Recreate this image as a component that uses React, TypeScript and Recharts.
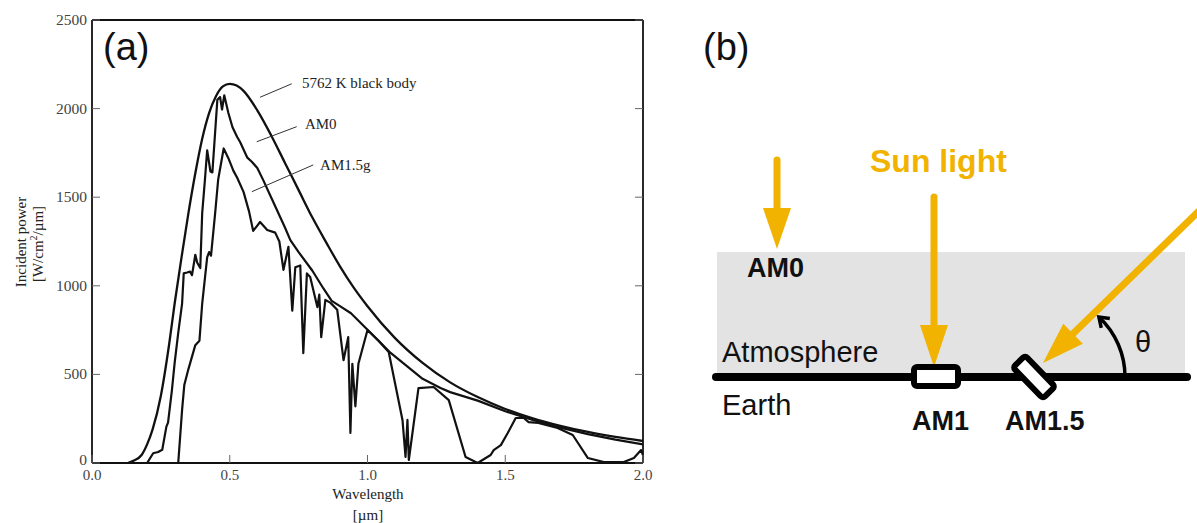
import {
  Customized,
  Line,
  LineChart,
  ReferenceDot,
  ReferenceLine,
  Surface,
  XAxis,
  YAxis,
} from 'recharts';

// [wavelength µm, incident power]
const BLACK_BODY: [number, number][] = [
  [0.13, 0], [0.15, 12], [0.18, 45], [0.2, 105], [0.22, 190], [0.25, 380], [0.28, 670],
  [0.3, 900], [0.325, 1160], [0.35, 1410], [0.375, 1635], [0.4, 1830], [0.425, 1975],
  [0.45, 2070], [0.475, 2125], [0.5, 2140], [0.525, 2130], [0.55, 2100], [0.6, 1990],
  [0.65, 1850], [0.7, 1695], [0.75, 1540], [0.8, 1385], [0.85, 1245], [0.9, 1110],
  [0.95, 990], [1.0, 885], [1.1, 705], [1.2, 565], [1.3, 455], [1.4, 372], [1.5, 305],
  [1.6, 252], [1.7, 210], [1.8, 175], [1.9, 147], [2.0, 124],
];

const AM0: [number, number][] = [
  [0.2, 0], [0.222, 55], [0.24, 62], [0.255, 75], [0.27, 205], [0.276, 228], [0.29, 410],
  [0.3, 565], [0.313, 735], [0.327, 900], [0.333, 1070], [0.345, 1075], [0.356, 1080],
  [0.363, 1060], [0.375, 1175], [0.382, 1130], [0.393, 1100], [0.4, 1410], [0.41, 1600],
  [0.418, 1765], [0.43, 1645], [0.437, 1640], [0.455, 2050], [0.465, 2065], [0.472, 1995],
  [0.48, 2075], [0.495, 1975], [0.51, 1895], [0.527, 1840], [0.538, 1810], [0.563, 1725],
  [0.58, 1700], [0.6, 1665], [0.622, 1595], [0.65, 1500], [0.7, 1330], [0.72, 1258],
  [0.75, 1190], [0.8, 1085], [0.84, 985], [0.87, 915], [0.9, 885], [0.94, 845], [1.0, 752],
  [1.04, 690], [1.084, 621], [1.2, 475], [1.265, 423], [1.3, 400], [1.4, 352], [1.5, 292],
  [1.6, 243], [1.7, 200], [1.8, 163], [1.9, 132], [2.0, 105],
];

const AM15G: [number, number][] = [
  [0.313, 0], [0.327, 300], [0.335, 440], [0.35, 530], [0.375, 665], [0.39, 690], [0.4, 900],
  [0.418, 1160], [0.425, 1190], [0.432, 1170], [0.447, 1410], [0.458, 1600], [0.478, 1775],
  [0.495, 1720], [0.513, 1650], [0.527, 1610], [0.55, 1530], [0.57, 1420], [0.585, 1310],
  [0.6, 1340], [0.61, 1360], [0.636, 1315], [0.665, 1300], [0.68, 1250], [0.695, 1090],
  [0.713, 1220], [0.727, 860], [0.738, 1105], [0.756, 1115], [0.767, 620], [0.78, 1070],
  [0.792, 1050], [0.818, 880], [0.825, 950], [0.832, 710], [0.847, 920], [0.865, 905],
  [0.89, 865], [0.913, 580], [0.93, 710], [0.938, 170], [0.945, 560], [0.956, 320],
  [0.967, 560], [1.0, 751], [1.04, 690], [1.077, 626], [1.127, 243], [1.138, 34],
  [1.145, 243], [1.15, 17], [1.185, 423], [1.24, 429], [1.295, 355], [1.356, 34], [1.4, 0],
  [1.447, 45], [1.458, 73], [1.484, 101], [1.509, 169], [1.538, 254], [1.567, 254],
  [1.585, 231], [1.62, 226], [1.69, 198], [1.745, 158], [1.8, 28], [1.858, 5], [1.93, 5],
  [1.967, 28], [1.993, 73], [2.0, 45],
];

const X_TICKS = [0, 0.5, 1, 1.5, 2];
const Y_TICKS = [0, 500, 1000, 1500, 2000, 2500];

const CURVE_NAMES = ['5762 K black body', 'AM0', 'AM1.5g'];

// leader line (from, to) and label anchor, in data units
const CALLOUTS = [
  { from: [0.61, 2064], to: [0.725, 2140], at: [0.762, 2144] },
  { from: [0.598, 1813], to: [0.743, 1898], at: [0.773, 1913] },
  { from: [0.58, 1531], to: [0.803, 1682], at: [0.828, 1682] },
];

const toRows = (pts: [number, number][]) => pts.map(([wl, p]) => ({ wl, p }));

const SERIF = '"Liberation Serif", "DejaVu Serif", serif';
const SANS = '"Liberation Sans", Arial, sans-serif';
const ORANGE = '#f1b300';
const INK = '#111';
const TICK_INK = '#666';

const W = 660;
const H = 523;
const PLOT = { left: 92, right: 643, top: 20, bottom: 463 };
const TICK_LEN = 8;

function BottomTick({ x, payload }: any) {
  return (
    <g>
      <line x1={x} x2={x} y1={PLOT.bottom} y2={PLOT.bottom - TICK_LEN} stroke={TICK_INK} />
      <text x={x} y={PLOT.bottom + 17} textAnchor="middle" fontFamily={SERIF} fontSize={15} fill="#444">
        {Number(payload.value).toFixed(1)}
      </text>
    </g>
  );
}

function TopTick({ x }: any) {
  return <line x1={x} x2={x} y1={PLOT.top} y2={PLOT.top + TICK_LEN} stroke={TICK_INK} />;
}

function LeftTick({ y, payload }: any) {
  // the zero label sits a little higher so it clears the 0.0 below it
  const lift = payload.value === 0 ? 3 : 0;
  return (
    <g>
      <line x1={PLOT.left} x2={PLOT.left + TICK_LEN} y1={y} y2={y} stroke={TICK_INK} />
      <text x={PLOT.left - 5} y={y + 5 - lift} textAnchor="end" fontFamily={SERIF} fontSize={15.5} fill="#444">
        {payload.value}
      </text>
    </g>
  );
}

function RightTick({ y }: any) {
  return <line x1={PLOT.right - TICK_LEN} x2={PLOT.right} y1={y} y2={y} stroke={TICK_INK} />;
}

function SpectrumTitles() {
  return (
    <g fontFamily={SERIF} fill="#222" fontSize={15}>
      <text x={103} y={60} fontFamily={SANS} fontSize={38} fill={INK}>(a)</text>
      <text x={368} y={499} textAnchor="middle">Wavelength</text>
      <text x={368} y={520} textAnchor="middle">[µm]</text>
      <text transform="rotate(-90)" x={-242} y={26} textAnchor="middle">Incident power</text>
      <text transform="rotate(-90)" x={-244} y={43} textAnchor="middle">
        [W/cm<tspan dy={-6} fontSize={10}>2</tspan>
        <tspan dy={6}>/µm]</tspan>
      </text>
    </g>
  );
}

function SpectrumChart() {
  const axisLine = { stroke: INK, strokeWidth: 1.8 };
  return (
    <LineChart
      width={W}
      height={H}
      margin={{ top: PLOT.top - 1, right: W - PLOT.right - 1, bottom: H - PLOT.bottom - 30, left: PLOT.left - 60 }}
    >
      <XAxis dataKey="wl" type="number" domain={[0, 2]} ticks={X_TICKS} interval={0} height={30}
        tick={BottomTick} tickLine={false} axisLine={axisLine} allowDataOverflow />
      <XAxis xAxisId="top" orientation="top" type="number" domain={[0, 2]} ticks={X_TICKS} interval={0}
        height={1} tick={TopTick} tickLine={false} axisLine={axisLine} allowDataOverflow />
      <YAxis type="number" domain={[0, 2500]} ticks={Y_TICKS} interval={0} width={60}
        tick={LeftTick} tickLine={false} axisLine={axisLine} allowDataOverflow />
      <YAxis yAxisId="right" orientation="right" type="number" domain={[0, 2500]} ticks={Y_TICKS}
        interval={0} width={1} tick={RightTick} tickLine={false} axisLine={axisLine} allowDataOverflow />

      <Line data={toRows(BLACK_BODY)} dataKey="p" type="monotone" stroke={INK} strokeWidth={2.3}
        dot={false} activeDot={false} isAnimationActive={false} />
      <Line data={toRows(AM0)} dataKey="p" type="linear" stroke={INK} strokeWidth={2.2}
        strokeLinejoin="round" dot={false} activeDot={false} isAnimationActive={false} />
      <Line data={toRows(AM15G)} dataKey="p" type="linear" stroke={INK} strokeWidth={2.2}
        strokeLinejoin="round" dot={false} activeDot={false} isAnimationActive={false} />

      {CALLOUTS.map((c, i) => (
        <ReferenceLine key={`l${i}`} segment={[{ x: c.from[0], y: c.from[1] }, { x: c.to[0], y: c.to[1] }]}
          stroke="#333" strokeWidth={1} />
      ))}
      {CALLOUTS.map((c, i) => (
        <ReferenceDot key={`t${i}`} x={c.at[0]} y={c.at[1]} r={0} stroke="none"
          label={{ value: CURVE_NAMES[i], position: 'right', offset: 0, fill: '#222', fontSize: 15, fontFamily: SERIF }} />
      ))}
      <Customized component={<SpectrumTitles />} />
    </LineChart>
  );
}

// air-mass sketch: sun rays hitting the ground through the atmosphere
function AirMassDiagram() {
  const rayTip = [1043, 363];
  const dir = [0.716, -0.698];
  const perp = [0.698, 0.716];
  const head = [rayTip[0] + 42 * dir[0], rayTip[1] + 42 * dir[1]];
  const arcEnd = [1043 + 82 * Math.cos((47 * Math.PI) / 180), 377 - 82 * Math.sin((47 * Math.PI) / 180)];
  return (
    <Surface width={537} height={523} viewBox={{ x: 660, y: 0, width: 537, height: 523 }}>
      <text x={703} y={60} fontFamily={SANS} fontSize={38} fill={INK}>(b)</text>
      <rect x={717} y={252} width={468} height={125} fill="#e3e3e3" />
      <line x1={716} x2={1187} y1={377} y2={377} stroke="#000" strokeWidth={8} strokeLinecap="round" />

      {/* AM0 ray */}
      <line x1={777} x2={777} y1={160} y2={212} stroke={ORANGE} strokeWidth={7} strokeLinecap="round" />
      <polygon points="763,208 791,208 777,249" fill={ORANGE} />
      {/* AM1 ray */}
      <line x1={934} x2={934} y1={197} y2={330} stroke={ORANGE} strokeWidth={7} strokeLinecap="round" />
      <polygon points="920,325 948,325 934,367" fill={ORANGE} />
      {/* AM1.5 ray */}
      <line x1={rayTip[0] + 270 * dir[0]} y1={rayTip[1] + 270 * dir[1]} x2={head[0] - 3 * dir[0]} y2={head[1] - 3 * dir[1]}
        stroke={ORANGE} strokeWidth={7} />
      <polygon
        points={`${head[0] + 14 * perp[0]},${head[1] + 14 * perp[1]} ${head[0] - 14 * perp[0]},${head[1] - 14 * perp[1]} ${rayTip[0]},${rayTip[1]}`}
        fill={ORANGE}
      />

      {/* detectors */}
      <rect x={914} y={367} width={44} height={19} rx={3} fill="#fff" stroke="#000" strokeWidth={6} />
      <g transform="rotate(46 1034 377)">
        <rect x={1034 - 21.5} y={377 - 8.5} width={43} height={17} rx={3} fill="#fff" stroke="#000" strokeWidth={6} />
      </g>

      {/* angle */}
      <path d={`M1125 377 A82 82 0 0 0 ${arcEnd[0]} ${arcEnd[1]}`} fill="none" stroke="#000" strokeWidth={3.5} />
      <path d={`M${arcEnd[0] + 2.3} ${arcEnd[1] + 10.8} L${arcEnd[0]} ${arcEnd[1]} L${arcEnd[0] + 10.9} ${arcEnd[1] + 1.5}`}
        fill="none" stroke="#000" strokeWidth={3.5} strokeLinejoin="miter" />

      <g fontFamily={SANS} fill={INK}>
        <text x={870} y={172} fontSize={32} fontWeight="bold" fill={ORANGE}>Sun light</text>
        <text x={747} y={277} fontSize={27} fontWeight="bold">AM0</text>
        <text x={722} y={362} fontSize={29}>Atmosphere</text>
        <text x={722} y={415} fontSize={29}>Earth</text>
        <text x={912} y={430} fontSize={27} fontWeight="bold">AM1</text>
        <text x={1005} y={430} fontSize={27} fontWeight="bold">AM1.5</text>
        <text x={1135} y={352} fontSize={29}>θ</text>
      </g>
    </Surface>
  );
}

export default function App() {
  return (
    <div style={{ position: 'absolute', left: 0, top: 0, width: 1197, height: 523, background: '#fff', overflow: 'hidden' }}>
      <div style={{ position: 'absolute', left: 0, top: 0 }}>
        <SpectrumChart />
      </div>
      <div style={{ position: 'absolute', left: 660, top: 0 }}>
        <AirMassDiagram />
      </div>
    </div>
  );
}
